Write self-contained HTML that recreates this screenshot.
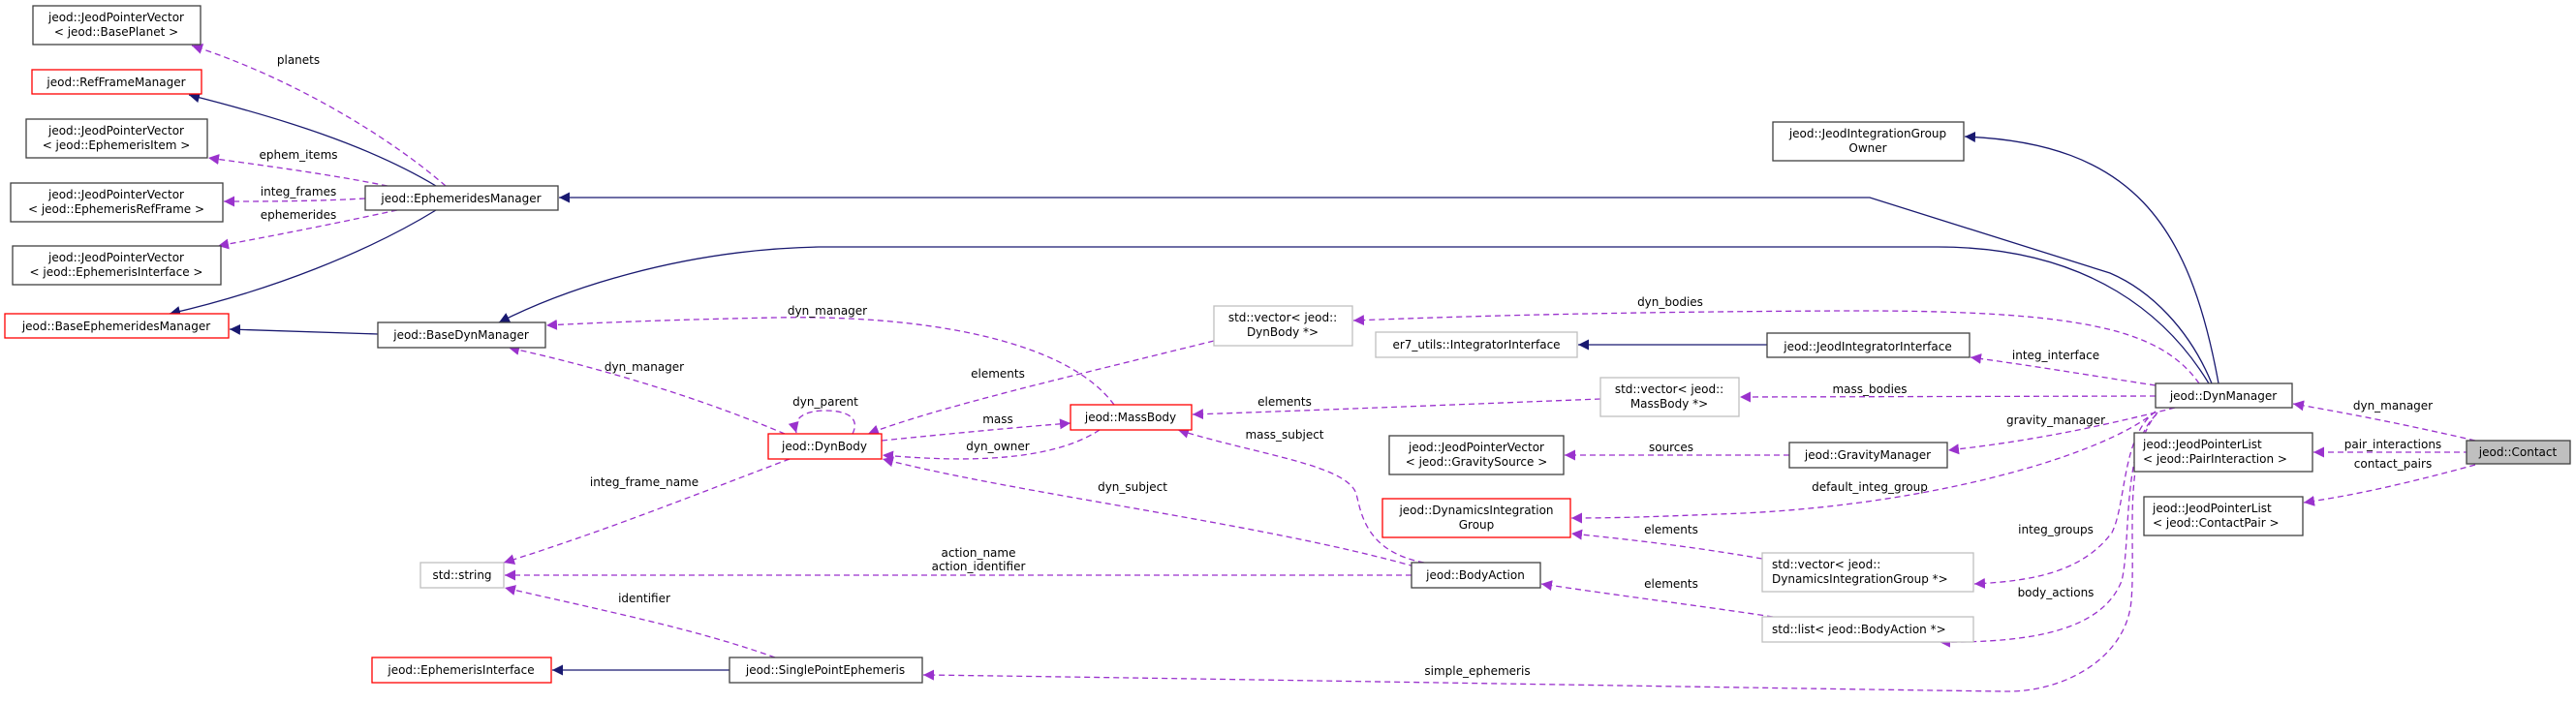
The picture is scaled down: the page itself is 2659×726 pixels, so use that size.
<!DOCTYPE html>
<html><head><meta charset="utf-8"><style>
html,body{margin:0;padding:0;background:#fff;}
svg text{font-family:"DejaVu Sans","Liberation Sans",sans-serif;font-size:12px;fill:#000;}
</style></head><body>
<svg width="2659" height="721" viewBox="0 0 2659 721" xmlns="http://www.w3.org/2000/svg">
<defs>
<marker id="b" viewBox="0 0 10 10" refX="10" refY="5" markerWidth="11" markerHeight="11" markerUnits="userSpaceOnUse" orient="auto"><path d="M0,0 L10,5 L0,10 z" fill="#191970"/></marker>
<marker id="p" viewBox="0 0 10 10" refX="10" refY="5" markerWidth="11" markerHeight="11" markerUnits="userSpaceOnUse" orient="auto"><path d="M0,0 L10,5 L0,10 z" fill="#9a32cd"/></marker>
</defs>
<g fill="none" stroke="#191970" stroke-width="1.3" marker-end="url(#b)">
<path d="M450,192 C380,150 290,122 195,98"/>
<path d="M450,217 C380,260 280,300 175,324"/>
<path d="M390,345 L237,340"/>
<path d="M2283,396 C2260,340 2220,300 2178,282 L1930,204 L577,204"/>
<path d="M2280,396 C2240,330 2160,255 2000,255 L845,255 C700,258 580,300 515,333"/>
<path d="M2290,396 C2260,230 2200,148 2028,141"/>
<path d="M1824,356 L1629,356"/>
<path d="M753,692 L570,692"/>
</g>
<g fill="none" stroke="#9a32cd" stroke-width="1.3" stroke-dasharray="6,4" marker-end="url(#p)">
<path d="M460,192 C400,140 300,80 198,47"/>
<path d="M400,192 C340,180 280,172 215,163"/>
<path d="M377,205 C320,208 280,208 231,208"/>
<path d="M410,217 C340,232 290,242 225,254"/>
<path d="M810,448 C720,410 620,380 525,359"/>
<path d="M1150,418 C1100,350 950,325 800,328 C700,330 620,333 564,336"/>
<path d="M880,448 C888,432 875,424 852,424 C830,424 818,432 822,447"/>
<path d="M1253,352 C1100,390 970,420 896,448"/>
<path d="M910,455 C980,448 1040,442 1105,437"/>
<path d="M1135,444 C1080,480 980,476 911,470"/>
<path d="M1460,585 C1300,540 1050,510 911,474"/>
<path d="M1470,581 C1410,570 1405,530 1400,510 C1390,480 1300,470 1216,444"/>
<path d="M815,474 C720,510 620,550 520,581"/>
<path d="M1457,594 L521,594"/>
<path d="M800,679 C720,650 620,630 521,607"/>
<path d="M1652,412 C1500,418 1350,424 1231,428"/>
<path d="M1847,470 L1615,470"/>
<path d="M1819,577 C1750,565 1690,558 1622,551"/>
<path d="M1830,637 C1750,625 1670,615 1591,603"/>
<path d="M2270,396 C2230,340 2150,320 1900,321 C1700,322 1550,325 1397,331"/>
<path d="M2225,398 C2160,388 2100,378 2034,369"/>
<path d="M2225,409 L1796,410"/>
<path d="M2245,421 C2170,440 2100,455 2011,465"/>
<path d="M2225,425 C2170,470 2000,520 1800,530 C1720,533 1680,535 1622,535"/>
<path d="M2225,425 C2190,450 2195,520 2180,550 C2150,590 2100,600 2038,603"/>
<path d="M2226,428 C2190,460 2200,560 2190,600 C2170,650 2100,664 2002,663"/>
<path d="M2227,426 C2190,470 2205,560 2200,620 C2195,680 2130,715 2070,714 C1900,712 1200,700 953,697"/>
<path d="M2555,455 C2490,440 2430,428 2367,417"/>
<path d="M2549,467 L2388,467"/>
<path d="M2555,480 C2500,495 2440,510 2378,519"/>
</g>
<g stroke-width="1.3">
<rect x="34" y="6" width="173" height="40" fill="#fff" stroke="#404040"/>
<rect x="33" y="72" width="175" height="25" fill="#fff" stroke="#ff0000"/>
<rect x="27" y="123" width="187" height="40" fill="#fff" stroke="#404040"/>
<rect x="11" y="189" width="219" height="40" fill="#fff" stroke="#404040"/>
<rect x="13" y="254" width="215" height="40" fill="#fff" stroke="#404040"/>
<rect x="5" y="324" width="231" height="25" fill="#fff" stroke="#ff0000"/>
<rect x="377" y="192" width="199" height="25" fill="#fff" stroke="#404040"/>
<rect x="390" y="333" width="173" height="26" fill="#fff" stroke="#404040"/>
<rect x="793" y="448" width="117" height="26" fill="#fff" stroke="#ff0000"/>
<rect x="434" y="581" width="86" height="26" fill="#fff" stroke="#bfbfbf"/>
<rect x="384" y="679" width="185" height="26" fill="#fff" stroke="#ff0000"/>
<rect x="753" y="679" width="199" height="26" fill="#fff" stroke="#404040"/>
<rect x="1253" y="316" width="143" height="41" fill="#fff" stroke="#bfbfbf"/>
<rect x="1420" y="343" width="208" height="26" fill="#fff" stroke="#bfbfbf"/>
<rect x="1105" y="418" width="125" height="26" fill="#fff" stroke="#ff0000"/>
<rect x="1652" y="390" width="143" height="40" fill="#fff" stroke="#bfbfbf"/>
<rect x="1434" y="450" width="180" height="40" fill="#fff" stroke="#404040"/>
<rect x="1427" y="515" width="194" height="40" fill="#fff" stroke="#ff0000"/>
<rect x="1457" y="581" width="133" height="26" fill="#fff" stroke="#404040"/>
<rect x="1819" y="571" width="218" height="40" fill="#fff" stroke="#bfbfbf"/>
<rect x="1819" y="637" width="218" height="26" fill="#fff" stroke="#bfbfbf"/>
<rect x="1830" y="126" width="197" height="40" fill="#fff" stroke="#404040"/>
<rect x="1824" y="344" width="209" height="25" fill="#fff" stroke="#404040"/>
<rect x="2225" y="396" width="141" height="25" fill="#fff" stroke="#404040"/>
<rect x="1847" y="457" width="163" height="26" fill="#fff" stroke="#404040"/>
<rect x="2203" y="447" width="184" height="40" fill="#fff" stroke="#404040"/>
<rect x="2213" y="513" width="164" height="40" fill="#fff" stroke="#404040"/>
<rect x="2546" y="455" width="107" height="24" fill="#bfbfbf" stroke="#404040"/>
</g>
<g text-anchor="middle">
<text x="120" y="22">jeod::JeodPointerVector</text><text x="120" y="37">&lt; jeod::BasePlanet &gt;</text>
<text x="120" y="89">jeod::RefFrameManager</text>
<text x="120" y="139">jeod::JeodPointerVector</text><text x="120" y="154">&lt; jeod::EphemerisItem &gt;</text>
<text x="120" y="205">jeod::JeodPointerVector</text><text x="120" y="220">&lt; jeod::EphemerisRefFrame &gt;</text>
<text x="120" y="270">jeod::JeodPointerVector</text><text x="120" y="285">&lt; jeod::EphemerisInterface &gt;</text>
<text x="120" y="341">jeod::BaseEphemeridesManager</text>
<text x="476" y="209">jeod::EphemeridesManager</text>
<text x="476" y="350">jeod::BaseDynManager</text>
<text x="851" y="465">jeod::DynBody</text>
<text x="477" y="598">std::string</text>
<text x="476" y="696">jeod::EphemerisInterface</text>
<text x="852" y="696">jeod::SinglePointEphemeris</text>
<text x="1324" y="332">std::vector&lt; jeod::</text><text x="1324" y="347">DynBody *&gt;</text>
<text x="1524" y="360">er7_utils::IntegratorInterface</text>
<text x="1167" y="435">jeod::MassBody</text>
<text x="1723" y="406">std::vector&lt; jeod::</text><text x="1723" y="421">MassBody *&gt;</text>
<text x="1524" y="466">jeod::JeodPointerVector</text><text x="1524" y="481">&lt; jeod::GravitySource &gt;</text>
<text x="1524" y="531">jeod::DynamicsIntegration</text><text x="1524" y="546">Group</text>
<text x="1523" y="598">jeod::BodyAction</text>
<text x="1928" y="362">jeod::JeodIntegratorInterface</text>
<text x="1928" y="142">jeod::JeodIntegrationGroup</text><text x="1928" y="157">Owner</text>
<text x="2295" y="413">jeod::DynManager</text>
<text x="1928" y="474">jeod::GravityManager</text>
<text x="2599" y="471">jeod::Contact</text>
</g>
<g>
<text x="1829" y="587">std::vector&lt; jeod::</text><text x="1829" y="602">DynamicsIntegrationGroup *&gt;</text>
<text x="1829" y="654">std::list&lt; jeod::BodyAction *&gt;</text>
<text x="2212" y="463">jeod::JeodPointerList</text><text x="2212" y="478">&lt; jeod::PairInteraction &gt;</text>
<text x="2222" y="529">jeod::JeodPointerList</text><text x="2222" y="544">&lt; jeod::ContactPair &gt;</text>
</g>
<g text-anchor="middle">
<text x="308" y="66">planets</text>
<text x="308" y="164">ephem_items</text>
<text x="308" y="202">integ_frames</text>
<text x="308" y="226">ephemerides</text>
<text x="665" y="383">dyn_manager</text>
<text x="854" y="325">dyn_manager</text>
<text x="852" y="419">dyn_parent</text>
<text x="1030" y="390">elements</text>
<text x="1030" y="437">mass</text>
<text x="1030" y="465">dyn_owner</text>
<text x="1169" y="507">dyn_subject</text>
<text x="1326" y="453">mass_subject</text>
<text x="665" y="502">integ_frame_name</text>
<text x="1010" y="575">action_name</text><text x="1010" y="589">action_identifier</text>
<text x="665" y="622">identifier</text>
<text x="1326" y="419">elements</text>
<text x="1725" y="466">sources</text>
<text x="1725" y="551">elements</text>
<text x="1725" y="607">elements</text>
<text x="1724" y="316">dyn_bodies</text>
<text x="2122" y="371">integ_interface</text>
<text x="1930" y="406">mass_bodies</text>
<text x="2122" y="438">gravity_manager</text>
<text x="1930" y="507">default_integ_group</text>
<text x="2122" y="551">integ_groups</text>
<text x="2122" y="616">body_actions</text>
<text x="1525" y="697">simple_ephemeris</text>
<text x="2470" y="423">dyn_manager</text>
<text x="2470" y="463">pair_interactions</text>
<text x="2470" y="483">contact_pairs</text>
</g>
</svg>
</body></html>
